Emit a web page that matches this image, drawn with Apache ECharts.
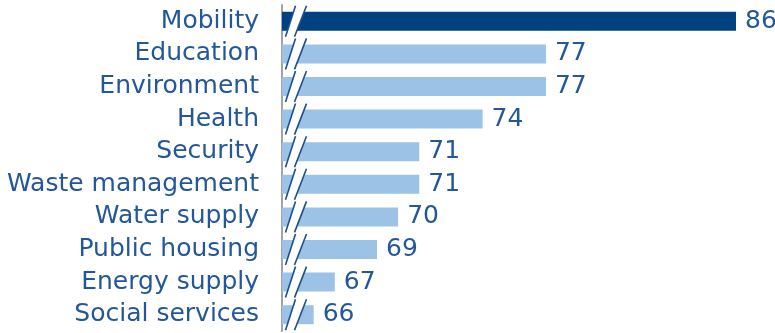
<!DOCTYPE html>
<html>
<head>
<meta charset="utf-8">
<script src="https://cdn.jsdelivr.net/npm/echarts@6/dist/echarts.min.js"></script>
<style>
html,body{margin:0;padding:0;background:#fff;}
#chart{width:775px;height:333px;}
</style>
</head>
<body>
<div id="chart"></div>
<script>
var categories = ["Mobility","Education","Environment","Health","Security","Waste management","Water supply","Public housing","Energy supply","Social services"];
var values = [86,77,77,74,71,71,70,69,67,66];
var highlightCategory = "Mobility";
var axisMin = 64.5;
var axisMax = 86;

var darkBlue = '#00427f';
var lightBlue = '#9cc3e6';
var textBlue = '#24579a';

var chart = echarts.init(document.getElementById('chart'));
var barData = values.map(function(v, i){
  return {value: v, itemStyle: {color: categories[i] === highlightCategory ? darkBlue : lightBlue}};
});
var breakData = categories.map(function(c, i){ return [axisMin, i]; });

chart.setOption({
  animation: false,
  grid: {left: 282, right: 39, top: 5, bottom: 2, containLabel: false},
  xAxis: {
    type: 'value', min: axisMin, max: axisMax, show: false
  },
  yAxis: {
    type: 'category', data: categories, inverse: true,
    axisLine: {show: true, lineStyle: {color: '#a3a3a3', width: 2}},
    axisTick: {show: false},
    axisLabel: {color: textBlue, fontFamily: 'DejaVu Sans', fontSize: 25, margin: 23}
  },
  series: [
    {
      type: 'bar', data: barData, barWidth: 19,
      label: {show: true, position: 'right', distance: 9, color: textBlue, fontFamily: 'DejaVu Sans', fontSize: 25}
    },
    {
      type: 'custom', data: breakData, z: 10, silent: true,
      renderItem: function(params, api){
        var p = api.coord([api.value(0), api.value(1)]);
        var cx = p[0] + 13.5, cy = p[1];
        var h = 15.5;
        var l1 = [[cx-5-5, cy+h],[cx-5+5, cy-h]];
        var l2 = [[cx+5-6, cy+h],[cx+5+6, cy-h]];
        return {
          type: 'group',
          children: [
            {type: 'polygon', shape: {points: [l1[0], l1[1], l2[1], l2[0]]}, style: {fill: '#ffffff'}},
            {type: 'line', shape: {x1: l1[0][0], y1: l1[0][1], x2: l1[1][0], y2: l1[1][1]}, style: {stroke: '#1d4f8f', lineWidth: 1.6}},
            {type: 'line', shape: {x1: l2[0][0], y1: l2[0][1], x2: l2[1][0], y2: l2[1][1]}, style: {stroke: '#1d4f8f', lineWidth: 1.6}}
          ]
        };
      }
    }
  ]
});
</script>
</body>
</html>
